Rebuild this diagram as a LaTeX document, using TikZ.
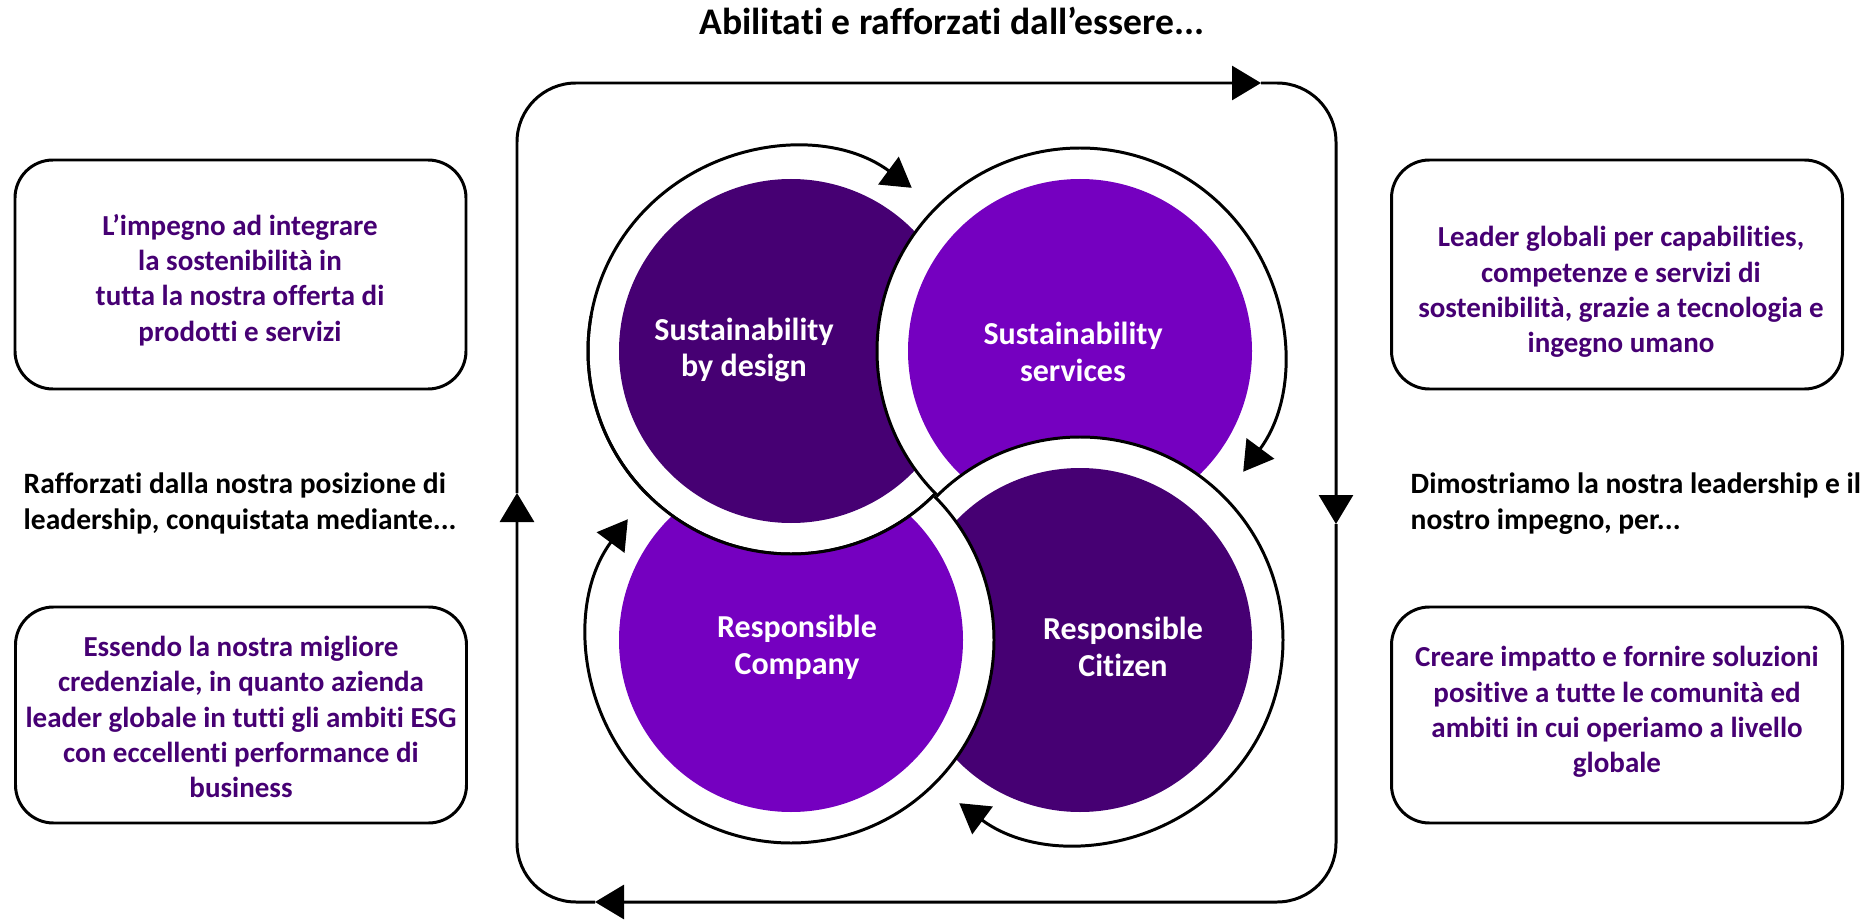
\documentclass[tikz,border=0pt]{standalone}
\usepackage{fontspec}
\setmainfont{Carlito}[Ligatures={TeX,NoCommon}]
\usetikzlibrary{arrows.meta}

\definecolor{deeppurple}{RGB}{70,0,115}
\definecolor{brightpurple}{RGB}{117,0,192}

\tikzset{
  ring/.style={circle, fill=white, minimum size=4.06cm, inner sep=0pt, outer sep=0pt},
  core/.style={circle, minimum size=3.44cm, inner sep=0pt, outer sep=0pt},
  corename/.style={text=white, align=center, inner sep=0pt, font=\bfseries\fontsize{9.1pt}{10.5pt}\selectfont},
  cyclearrow/.style={line width=0.85pt, -{Triangle[width=0.34cm, length=0.29cm]}},
  sidebox/.style={rectangle, draw, line width=0.85pt, rounded corners=0.38cm, minimum width=4.51cm, minimum height=2.29cm},
  sidetext/.style={text=deeppurple, align=center, inner sep=0pt, font=\bfseries\fontsize{8.25pt}{10.05pt}\selectfont},
  bridgetext/.style={align=left, anchor=west, inner sep=0pt, font=\bfseries\fontsize{8.4pt}{10.05pt}\selectfont}
}

\begin{document}
\begin{tikzpicture}
  \useasboundingbox (0,0) rectangle (18.67,9.2);

  \node (title) [inner sep=0pt, font=\bfseries\fontsize{10.7pt}{12.5pt}\selectfont] at (9.52, 8.99) {Abilitati e rafforzati dall’essere...};

  % outer cycle
  \coordinate (top) at (12.61, 8.37);
  \coordinate (right) at (13.36, 3.96);
  \coordinate (bottom) at (5.95, 0.18);
  \coordinate (left) at (5.17, 4.27);
  \draw[cyclearrow, rounded corners=0.59cm] (left) |- (top);
  \draw[cyclearrow, rounded corners=0.59cm] (top) -| (right);
  \draw[cyclearrow, rounded corners=0.59cm] (right) |- (bottom);
  \draw[cyclearrow, rounded corners=0.59cm] (bottom) -| (left);

  % four rings
  \node (ring1) [ring] at (7.91, 5.69) {};
  \node (core1) [core, fill=deeppurple] at (ring1) {};
  \draw[cyclearrow] (ring1.315) arc[start angle=315, end angle=53.5, radius=2.03cm];

  \node (ring2) [ring] at (10.80, 5.69) {};
  \node (core2) [core, fill=brightpurple] at (ring2) {};
  \draw[cyclearrow] (ring2.225) arc[start angle=225, end angle=-36.5, radius=2.03cm];

  \node (ring3) [ring] at (10.80, 2.80) {};
  \node (core3) [core, fill=deeppurple] at (ring3) {};
  \draw[cyclearrow] (ring3.135) arc[start angle=135, end angle=-126.5, radius=2.03cm];

  % the last ring stays under the first one
  \begin{scope}
    \clip (0,0) -- (0,9.2) -- (18.67,9.2) -- (18.67,0) -- cycle (ring1.center) circle (2.03cm);
    \node (ring4) [ring] at (7.91, 2.80) {};
    \node (core4) [core, fill=brightpurple] at (ring4) {};
    \draw[cyclearrow] (ring4.45) arc[start angle=45, end angle=-216.5, radius=2.03cm];
  \end{scope}
  \draw[line width=0.85pt] (ring1.315) arc[start angle=315, end angle=170, radius=2.03cm];

  \node (design) [corename] at (7.44, 5.70) {Sustainability\\by design};
  \node (services) [corename] at (10.73, 5.68) {Sustainability\\services};
  \node (citizen) [corename] at (11.23, 2.73) {Responsible\\Citizen};
  \node (company) [corename] at (7.97, 2.73) {Responsible\\Company};

  % left side
  \node (offer) [sidebox] at (2.405, 6.455) {};
  \node (offertext) [sidetext] at (2.40, 6.40) {L’impegno ad integrare\\la sostenibilità in\\tutta la nostra offerta di\\prodotti e servizi};
  \node (position) [bridgetext] at (0.23, 4.165) {Rafforzati dalla nostra posizione di\\leadership, conquistata mediante...};
  \node (credential) [sidebox, minimum height=2.16cm] at (2.41, 2.05) {};
  \node (credentialtext) [sidetext] at (2.41, 2.03) {Essendo la nostra migliore\\credenziale, in quanto azienda\\leader globale in tutti gli ambiti ESG\\con eccellenti performance di\\business};

  % right side
  \node (leaders) [sidebox] at (16.17, 6.455) {};
  \node (leaderstext) [sidetext] at (16.21, 6.28) {Leader globali per capabilities,\\competenze e servizi di\\sostenibilità, grazie a tecnologia e\\ingegno umano};
  \node (commitment) [bridgetext] at (14.10, 4.165) {Dimostriamo la nostra leadership e il\\nostro impegno, per...};
  \node (impact) [sidebox, minimum height=2.16cm] at (16.17, 2.05) {};
  \node (impacttext) [sidetext] at (16.17, 2.08) {Creare impatto e fornire soluzioni\\positive a tutte le comunità ed\\ambiti in cui operiamo a livello\\globale};
\end{tikzpicture}
\end{document}
